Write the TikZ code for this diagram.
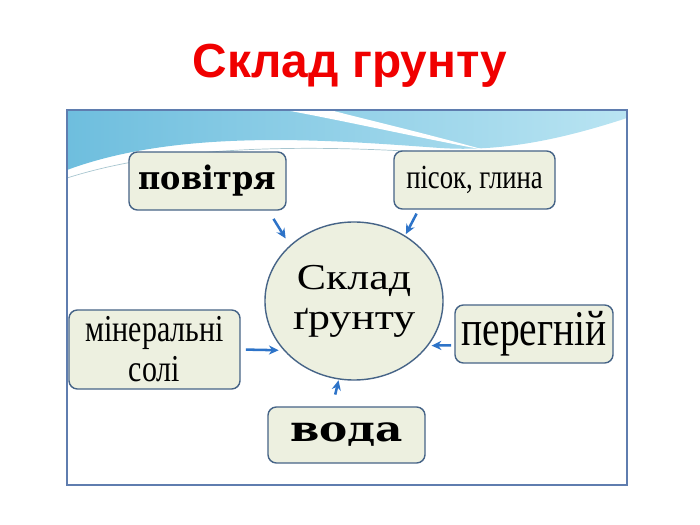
\documentclass[tikz,border=0pt]{standalone}
\usepackage{fontspec}
\setmainfont{Liberation Serif}
\newfontfamily\titlefont{Liberation Sans}
\newfontfamily\narrowfont[FakeStretch=0.79]{Liberation Serif}
\newfontfamily\widefont[FakeStretch=1.2]{Liberation Serif}
\newfontfamily\slabfont[FakeStretch=0.94]{DejaVu Serif}
\newfontfamily\slabwide[FakeStretch=1.2]{DejaVu Serif}
\usetikzlibrary{arrows.meta, shapes.geometric}
\definecolor{titlered}{RGB}{240,0,0}
\definecolor{boxfill}{RGB}{237,240,224}
\definecolor{boxline}{RGB}{70,100,135}
\definecolor{arrowblue}{RGB}{45,115,200}
\definecolor{framecol}{RGB}{95,125,175}
\definecolor{wavedark}{RGB}{110,190,222}
\definecolor{wavelight}{RGB}{185,228,242}

\begin{document}
\begin{tikzpicture}[
  x=0.025cm, y=-0.025cm,
  >={Stealth[length=7pt,width=6.5pt]},
  part/.style={draw=boxline, line width=1pt, fill=boxfill, rounded corners=6pt, inner sep=0pt, align=center},
  feed/.style={->, draw=arrowblue, line width=1.8pt}
]
\useasboundingbox (0,0) rectangle (700,525);
% backdrop band
\shade[left color=wavedark, right color=wavelight] (67,110) -- (627,110) -- (627,118)
  .. controls (560,140) and (500,152) .. (440,148)
  .. controls (330,140) and (180,128) .. (67,170) -- cycle;
\fill[white] (285,110) .. controls (350,122) and (420,138) .. (485,150)
  .. controls (420,132) and (360,118) .. (330,110) -- cycle;
\draw[wavelight!70!gray, line width=0.5pt] (67,178) .. controls (180,142) and (330,146) .. (440,153);
\draw[framecol, line width=1.2pt] (67,110) rectangle (627,485);

\node[font=\titlefont\bfseries\fontsize{34pt}{38pt}\selectfont, text=titlered, anchor=base] (title) at (350,78) {Склад грунту};

\node[part, minimum width=3.925cm, minimum height=1.45cm, font=\slabfont\bfseries\fontsize{23pt}{26pt}\selectfont] (air) at (207.5,181) {повітря};
\node[part, minimum width=4.025cm, minimum height=1.45cm, font=\narrowfont\fontsize{24pt}{28pt}\selectfont] (sand) at (474.5,180) {пісок, глина};
\node[ellipse, draw=boxline, line width=1pt, fill=boxfill, minimum width=4.45cm, minimum height=3.95cm, inner sep=0pt, align=center,
  font=\widefont\fontsize{26pt}{28.4pt}\selectfont] (soil) at (354,301) {Склад\\ґрунту};
\node[part, minimum width=4.275cm, minimum height=1.975cm, font=\narrowfont\fontsize{27pt}{28.4pt}\selectfont] (salts) at (154.5,349.5) {мінеральні\\солі};
\node[part, minimum width=3.95cm, minimum height=1.45cm, font=\narrowfont\fontsize{35.5pt}{38pt}\selectfont] (humus) at (534,334) {перегній};
\node[part, minimum width=3.925cm, minimum height=1.4cm, font=\slabwide\bfseries\fontsize{25pt}{28pt}\selectfont] (water) at (346.5,435) {вода};

\draw[feed, shorten <=0.24cm, shorten >=0.2cm] (air.334) -- (soil.139);
\draw[feed, shorten <=0.11cm, shorten >=0.04cm] (sand.208) -- (soil.52);
\draw[feed, shorten <=0.13cm, shorten >=0.12cm] (salts.east) -- (soil.215);
\draw[feed, shorten <=0.08cm, shorten >=0.08cm] (humus.188) -- (soil.329);
\draw[feed, shorten <=0.3cm, shorten >=0.02cm] (water.116) -- (soil.259);
\end{tikzpicture}
\end{document}
